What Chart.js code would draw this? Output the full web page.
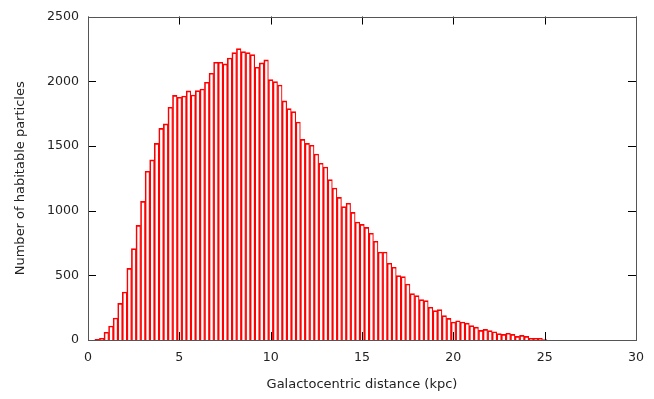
<!DOCTYPE html>
<html>
<head>
<meta charset="utf-8">
<script src="https://cdn.jsdelivr.net/npm/chart.js@4.4.0/dist/chart.umd.min.js"></script>
<style>
    html, body { margin: 0; padding: 0; background: #fff; }
    #wrap { width: 654px; height: 399px; }
</style>
</head>
<body>
<div id="wrap"><canvas id="myChart" width="654" height="399"></canvas></div>
<script>
// bin centres (kpc) and counts
const binCenters = [
    0.5, 0.75, 1.0, 1.25, 1.5, 1.75, 2.0, 2.25, 2.5, 2.75,
    3.0, 3.25, 3.5, 3.75, 4.0, 4.25, 4.5, 4.75, 5.0, 5.25,
    5.5, 5.75, 6.0, 6.25, 6.5, 6.75, 7.0, 7.25, 7.5, 7.75,
    8.0, 8.25, 8.5, 8.75, 9.0, 9.25, 9.5, 9.75, 10.0, 10.25,
    10.5, 10.75, 11.0, 11.25, 11.5, 11.75, 12.0, 12.25, 12.5, 12.75,
    13.0, 13.25, 13.5, 13.75, 14.0, 14.25, 14.5, 14.75, 15.0, 15.25,
    15.5, 15.75, 16.0, 16.25, 16.5, 16.75, 17.0, 17.25, 17.5, 17.75,
    18.0, 18.25, 18.5, 18.75, 19.0, 19.25, 19.5, 19.75, 20.0, 20.25,
    20.5, 20.75, 21.0, 21.25, 21.5, 21.75, 22.0, 22.25, 22.5, 22.75,
    23.0, 23.25, 23.5, 23.75, 24.0, 24.25, 24.5, 24.75, 25.0
];
const counts = [
    5, 13, 60, 108, 170, 283, 371, 554, 706, 886,
    1072, 1304, 1392, 1520, 1636, 1670, 1799, 1891, 1876, 1886,
    1925, 1894, 1927, 1940, 1992, 2062, 2147, 2147, 2134, 2180,
    2221, 2252, 2229, 2221, 2206, 2108, 2142, 2165, 2013, 1997,
    1971, 1848, 1788, 1765, 1685, 1551, 1520, 1505, 1438, 1366,
    1337, 1240, 1175, 1103, 1031, 1057, 987, 912, 894, 871,
    825, 763, 680, 680, 593, 562, 497, 490, 433, 358,
    343, 312, 304, 253, 227, 235, 188, 167, 139, 149,
    139, 131, 111, 100, 75, 82, 72, 64, 49, 44,
    52, 44, 28, 36, 28, 13, 13, 13, 3
];
const xTicks = [0, 5, 10, 15, 20, 25, 30];
const yTicks = [0, 500, 1000, 1500, 2000, 2500];
const xLabel = 'Galactocentric distance (kpc)';
const yLabel = 'Number of habitable particles';

const fontFamily = '"DejaVu Sans", sans-serif';
const fontSize = 12.6;

// gnuplot style frame with ticks pointing inwards on all four sides
const framePlugin = {
    id: 'frame',
    afterDatasetsDraw(chart) {
        let ctx = chart.ctx;
        let area = chart.chartArea;
        let xs = chart.scales.x;
        let ys = chart.scales.y;
        ctx.save();
        ctx.lineWidth = 1;
        ctx.strokeStyle = '#000';
        ctx.beginPath();
        xTicks.forEach(function(v) {
            let px = Math.round(xs.getPixelForValue(v)) + 0.5;
            ctx.moveTo(px, area.bottom);
            ctx.lineTo(px, area.bottom - 8);
            ctx.moveTo(px, area.top);
            ctx.lineTo(px, area.top + 8);
        });
        yTicks.forEach(function(v) {
            let py = Math.round(ys.getPixelForValue(v)) + 0.5;
            ctx.moveTo(area.left, py);
            ctx.lineTo(area.left + 8, py);
            ctx.moveTo(area.right, py);
            ctx.lineTo(area.right - 8, py);
        });
        ctx.stroke();
        ctx.strokeStyle = '#555';
        ctx.strokeRect(Math.round(area.left) + 0.5, Math.round(area.top) + 0.5,
            Math.round(area.right - area.left), Math.round(area.bottom - area.top));
        ctx.restore();
    }
};

function drawChart(canvas) {
    let points = binCenters.map(function(x, i) {
        return { x: x, y: counts[i] };
    });
    new Chart(canvas, {
        type: 'bar',
        data: {
            datasets: [{
                label: 'particles',
                data: points,
                backgroundColor: 'rgba(255,255,255,0)',
                borderColor: '#ff0000',
                borderWidth: { left: 1, top: 1, right: 0.5, bottom: 0 },
                borderSkipped: false,
                barPercentage: 1.0,
                categoryPercentage: 1.0
            }]
        },
        options: {
            responsive: false,
            animation: false,
            events: [],
            layout: { padding: { top: 16, right: 11, left: 0, bottom: 0 } },
            plugins: {
                legend: { display: false },
                tooltip: { enabled: false }
            },
            scales: {
                x: {
                    type: 'linear',
                    min: 0,
                    max: 30,
                    offset: false,
                    afterFit: function(s) { s.height = 59; },
                    afterBuildTicks: function(s) { s.ticks = xTicks.map(function(v) { return { value: v }; }); },
                    grid: { display: false, drawTicks: false, offset: false },
                    border: { display: false },
                    ticks: {
                        padding: 10,
                        maxRotation: 0,
                        color: '#222',
                        font: { family: fontFamily, size: fontSize },
                        callback: function(v) { return String(v); }
                    },
                    title: {
                        display: true,
                        text: xLabel,
                        color: '#222',
                        padding: { top: 0, bottom: 7 },
                        font: { family: fontFamily, size: 13 }
                    }
                },
                y: {
                    min: 0,
                    max: 2500,
                    afterFit: function(s) { s.width = 88; },
                    afterBuildTicks: function(s) { s.ticks = yTicks.map(function(v) { return { value: v }; }); },
                    grid: { display: false, drawTicks: false },
                    border: { display: false },
                    ticks: {
                        padding: 9,
                        color: '#222',
                        font: { family: fontFamily, size: fontSize },
                        callback: function(v) { return String(v); }
                    },
                    title: {
                        display: true,
                        text: yLabel,
                        color: '#222',
                        padding: { top: 13, bottom: 0 },
                        font: { family: fontFamily, size: 13 }
                    }
                }
            }
        },
        plugins: [framePlugin]
    });
}

drawChart(document.getElementById('myChart'));
</script>
</body>
</html>
